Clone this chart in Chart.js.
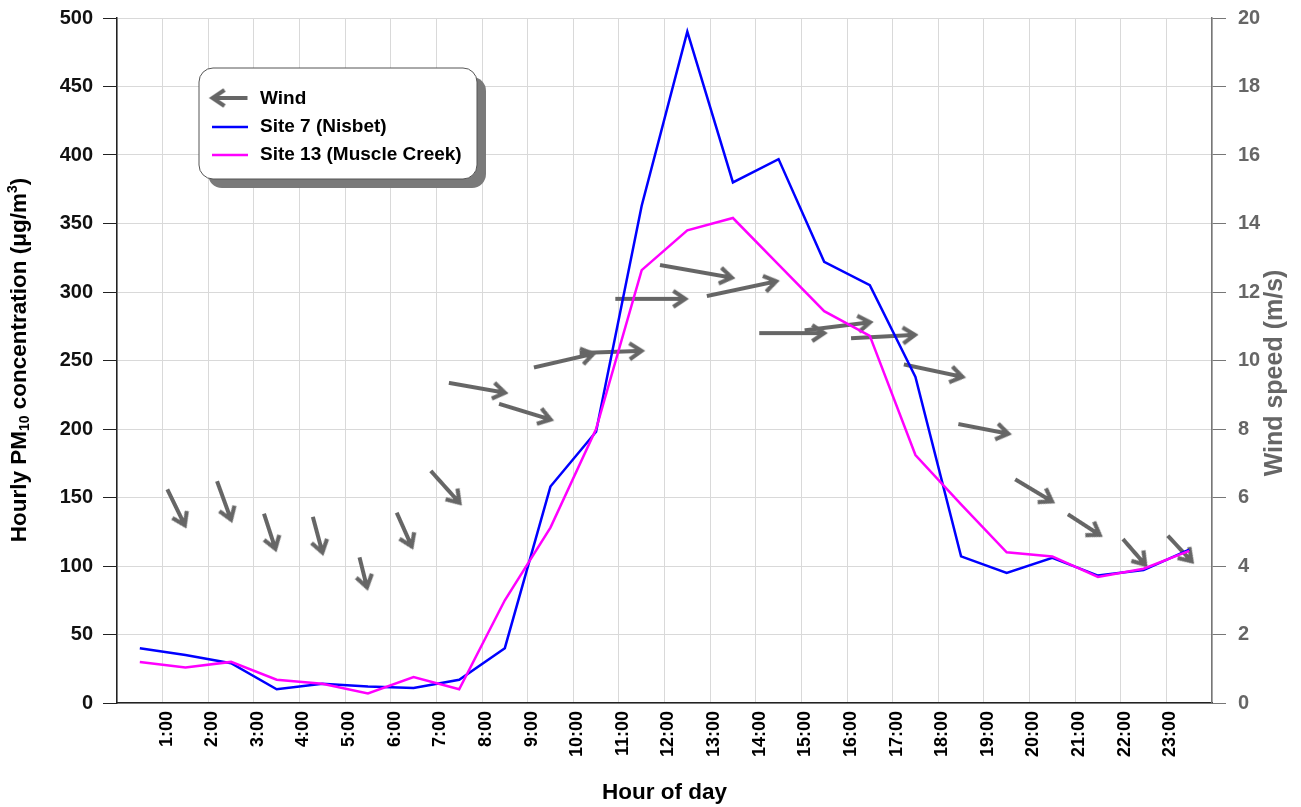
<!DOCTYPE html>
<html>
<head>
<meta charset="utf-8">
<script src="https://cdn.jsdelivr.net/npm/chart.js@4.4.1/dist/chart.umd.min.js"></script>
<style>
  html, body { margin: 0; padding: 0; background: #fff; }
</style>
</head>
<body>
<canvas id="chart" width="1301" height="807"></canvas>
<script>
// half-hour positions of the hourly values
const hours = [0.5, 1.5, 2.5, 3.5, 4.5, 5.5, 6.5, 7.5, 8.5, 9.5, 10.5, 11.5,
               12.5, 13.5, 14.5, 15.5, 16.5, 17.5, 18.5, 19.5, 20.5, 21.5, 22.5, 23.5];
const hourLabels = ['1:00', '2:00', '3:00', '4:00', '5:00', '6:00', '7:00', '8:00', '9:00', '10:00', '11:00', '12:00',
                    '13:00', '14:00', '15:00', '16:00', '17:00', '18:00', '19:00', '20:00', '21:00', '22:00', '23:00'];
const site7 = [40, 35, 29, 10, 14, 12, 11, 17, 40, 158, 198, 363,
               490, 380, 397, 322, 305, 238, 107, 95, 106, 93, 97, 112];
const site13 = [30, 26, 30, 17, 14, 7, 19, 10, 75, 128, 200, 316,
                345, 354, 320, 286, 268, 181, 145, 110, 107, 92, 98, 111];
// wind arrows: hour, speed (m/s), direction the arrow points (deg, clockwise from east on screen)
const windHour = [1.3, 2.35, 3.35, 4.4, 5.4, 6.3, 7.2, 7.9, 8.95, 9.8, 10.83, 11.7,
                  12.7, 13.7, 14.8, 15.8, 16.8, 17.9, 19.0, 20.1, 21.2, 22.3, 23.3];
const windSpeed = [5.7, 5.9, 5.0, 4.9, 3.8, 5.05, 6.3, 9.2, 8.5, 10.0, 10.25, 11.8,
                   12.6, 12.1, 10.8, 11.0, 10.7, 9.7, 8.0, 6.2, 5.2, 4.4, 4.5];
const windDir = [64, 70, 72, 75, 76, 66, 48, 10, 17, -13, -2, 0,
                 10, -12, 0, -7, -3, 12, 11, 31, 33, 49, 47];

const FONT = "'Liberation Sans', Arial, sans-serif";
Chart.defaults.font.family = FONT;

const arrowCache = {};
function arrowImage(len) {
  const L = Math.round(len);
  if (arrowCache[L]) return arrowCache[L];
  const c = document.createElement('canvas');
  c.width = L + 8; c.height = 26;
  const g = c.getContext('2d');
  g.strokeStyle = '#666';
  g.lineWidth = 4;
  g.lineJoin = 'miter';
  const y = 13, x0 = 4, x1 = L + 4;
  g.beginPath(); g.moveTo(x0, y); g.lineTo(x1 - 2, y); g.stroke();
  g.beginPath(); g.moveTo(x1 - 13, y - 8); g.lineTo(x1 - 1, y); g.lineTo(x1 - 13, y + 8); g.stroke();
  arrowCache[L] = c;
  return c;
}
const arrowLen = s => 14 + 4.8 * s;

const decor = {
  id: 'decor',
  afterDraw(chart) {
    const ctx = chart.ctx;
    // left axis title with sub/superscript
    ctx.save();
    ctx.translate(20, 360);
    ctx.rotate(-Math.PI / 2);
    ctx.fillStyle = '#000';
    ctx.textBaseline = 'middle';
    const size = 22.5;
    const parts = [
      { t: 'Hourly PM', s: 1, dy: 0 },
      { t: '10', s: 0.62, dy: 5 },
      { t: ' concentration (\u03bcg/m', s: 1, dy: 0 },
      { t: '3', s: 0.62, dy: -7 },
      { t: ')', s: 1, dy: 0 }
    ];
    let total = 0;
    parts.forEach(p => { ctx.font = `bold ${size * p.s}px ${FONT}`; p.w = ctx.measureText(p.t).width; total += p.w; });
    let x = -total / 2;
    ctx.textAlign = 'left';
    parts.forEach(p => { ctx.font = `bold ${size * p.s}px ${FONT}`; ctx.fillText(p.t, x, p.dy); x += p.w; });
    ctx.restore();

    // right axis title
    ctx.save();
    ctx.translate(1275, 373);
    ctx.rotate(-Math.PI / 2);
    ctx.fillStyle = '#666';
    ctx.font = `bold 25px ${FONT}`;
    ctx.textAlign = 'center';
    ctx.textBaseline = 'middle';
    ctx.fillText('Wind speed (m/s)', 0, 0);
    ctx.restore();

    // legend box with shadow
    const bx = 199, by = 68, bw = 278, bh = 111, r = 14;
    ctx.save();
    ctx.fillStyle = '#7a7a7a';
    ctx.beginPath(); ctx.roundRect(bx + 9, by + 9, bw, bh, r); ctx.fill();
    ctx.fillStyle = '#fff';
    ctx.strokeStyle = '#555';
    ctx.lineWidth = 1;
    ctx.beginPath(); ctx.roundRect(bx, by, bw, bh, r); ctx.fill(); ctx.stroke();

    const img = arrowImage(36);
    ctx.save();
    ctx.translate(229.5, 98);
    ctx.rotate(Math.PI);
    ctx.drawImage(img, -img.width / 2, -img.height / 2);
    ctx.restore();

    ctx.lineWidth = 2.5;
    ctx.strokeStyle = '#0000ff';
    ctx.beginPath(); ctx.moveTo(212, 127); ctx.lineTo(248, 127); ctx.stroke();
    ctx.strokeStyle = '#ff00ff';
    ctx.beginPath(); ctx.moveTo(212, 155); ctx.lineTo(248, 155); ctx.stroke();

    ctx.fillStyle = '#000';
    ctx.font = `bold 19px ${FONT}`;
    ctx.textAlign = 'left';
    ctx.textBaseline = 'middle';
    ctx.fillText('Wind', 260, 99);
    ctx.fillText('Site 7 (Nisbet)', 260, 127);
    ctx.fillText('Site 13 (Muscle Creek)', 260, 155);
    ctx.restore();
  }
};

const toXY = (xs, ys) => xs.map((x, i) => ({ x: x, y: ys[i] }));

// fix the axis boxes so the plot area matches the original frame
const fitY = w => s => { s.width = w; s.paddingTop = 0; s.paddingBottom = 0; };

new Chart(document.getElementById('chart').getContext('2d'), {
  type: 'line',
  data: {
    datasets: [
      {
        label: 'Site 13 (Muscle Creek)',
        data: toXY(hours, site13),
        borderColor: '#ff00ff',
        borderWidth: 2.5,
        pointRadius: 0,
        tension: 0,
        yAxisID: 'y'
      },
      {
        label: 'Site 7 (Nisbet)',
        data: toXY(hours, site7),
        borderColor: '#0000ff',
        borderWidth: 2.5,
        pointRadius: 0,
        tension: 0,
        yAxisID: 'y'
      },
      {
        label: 'Wind',
        data: toXY(windHour, windSpeed),
        showLine: false,
        yAxisID: 'y2',
        pointRadius: 5,
        pointStyle: ctx => arrowImage(arrowLen(windSpeed[ctx.dataIndex ?? 0])),
        rotation: ctx => windDir[ctx.dataIndex ?? 0]
      }
    ]
  },
  options: {
    responsive: false,
    animation: false,
    events: [],
    layout: { padding: { top: 18, left: 0, right: 0, bottom: 0 } },
    plugins: { legend: { display: false }, tooltip: { enabled: false } },
    scales: {
      x: {
        type: 'linear',
        min: 0,
        max: 24,
        afterFit: s => { s.height = 104; },
        ticks: {
          stepSize: 1,
          autoSkip: false,
          minRotation: 90,
          maxRotation: 90,
          padding: 8,
          labelOffset: 4,
          color: '#000',
          font: { size: 18, weight: 'bold' },
          callback: v => hourLabels[v - 1] || ''
        },
        grid: { color: '#d9d9d9', drawTicks: false },
        border: { color: '#222', width: 1.5 },
        title: {
          display: true,
          text: 'Hour of day',
          color: '#000',
          font: { size: 22.5, weight: 'bold' },
          padding: { top: 0, bottom: 1 }
        }
      },
      y: {
        position: 'left',
        min: 0,
        max: 500,
        afterFit: fitY(117),
        ticks: { stepSize: 50, padding: 10, color: '#111', font: { size: 20, weight: 'bold' } },
        grid: { color: '#d9d9d9', tickLength: 14, tickColor: '#222' },
        border: { color: '#222', width: 1.5 }
      },
      y2: {
        position: 'right',
        min: 0,
        max: 20,
        afterFit: fitY(89),
        ticks: { stepSize: 2, padding: 12, color: '#666', font: { size: 20, weight: 'bold' } },
        grid: { drawOnChartArea: false, tickLength: 14, tickColor: '#777' },
        border: { color: '#777', width: 1.5 }
      }
    }
  },
  plugins: [decor]
});
</script>
</body>
</html>
